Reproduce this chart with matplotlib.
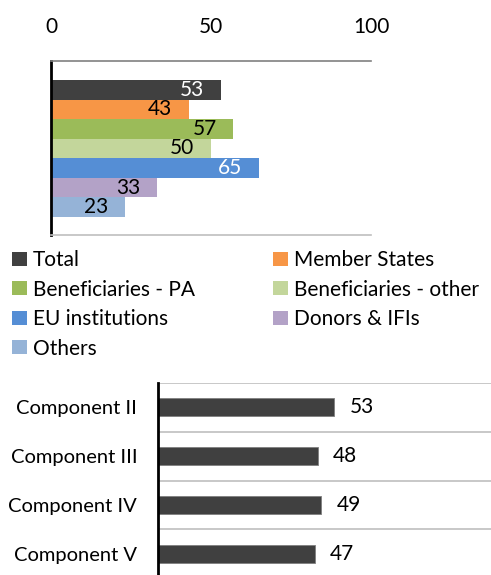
import matplotlib
matplotlib.use("Agg")
import matplotlib.pyplot as plt
from matplotlib.patches import Patch

plt.rcParams['font.family'] = ['Lato', 'DejaVu Sans']

# top chart: scores by stakeholder group
groups = ['Total', 'Member States', 'Beneficiaries - PA', 'Beneficiaries - other',
          'EU institutions', 'Donors & IFIs', 'Others']
group_vals = [53, 43, 57, 50, 65, 33, 23]
group_colors = ['#404040', '#F79646', '#9BBB59', '#C3D69B', '#558ED5', '#B3A2C7', '#95B3D7']
label_colors = ['white', 'black', 'black', 'black', 'white', 'black', 'black']
x_ticks = [0, 50, 100]

# bottom chart: scores by component
components = ['Component II', 'Component III', 'Component IV', 'Component V']
comp_vals = [53, 48, 49, 47]

W, H = 491, 575
fig = plt.figure(figsize=(W / 100, H / 100), dpi=100)

# ---- top chart
ax = fig.add_axes([51 / W, (H - 235) / H, 320 / W, 174 / H])
ys = list(range(len(groups)))
ax.barh(ys, group_vals, height=1.0, color=group_colors)
for y, v, c in zip(ys, group_vals, label_colors):
    ax.annotate(str(v), (v, y), xytext=(-12, 0), textcoords='offset points',
                ha='right', va='center', fontsize=15, color=c)
ax.set_xlim(0, 100)
ax.set_ylim(7.42, -1.47)
ax.xaxis.tick_top()
ax.set_xticks(x_ticks)
ax.tick_params(axis='x', length=0, pad=17, labelsize=15)
ax.set_yticks([])
ax.spines['right'].set_visible(False)
ax.spines['top'].set_color('#808080')
ax.spines['top'].set_linewidth(1.2)
ax.spines['bottom'].set_color('#BFBFBF')
ax.spines['bottom'].set_linewidth(1.2)
ax.spines['left'].set_color('black')
ax.spines['left'].set_linewidth(2)

# legend, filled column-wise -> reorder so it reads row-wise
order = [0, 2, 4, 6, 1, 3, 5]
handles = [Patch(facecolor=group_colors[i], edgecolor='none') for i in order]
labels = [groups[i] for i in order]
fig.legend(handles, labels, ncol=2, loc='upper left', bbox_to_anchor=(12 / W, 1 - 250 / H),
           frameon=False, fontsize=15, handlelength=0.7, handleheight=0.65,
           handletextpad=0.3, labelspacing=0.46, columnspacing=3.75, borderaxespad=0,
           borderpad=0)

# ---- bottom chart
ax2 = fig.add_axes([158 / W, (H - 578) / H, (W - 158) / W, 195 / H])
ys2 = list(range(len(components)))
ax2.barh(ys2, comp_vals, height=0.37, color='#404040', edgecolor='#7F7F7F', linewidth=0.6)
for y, v in zip(ys2, comp_vals):
    ax2.annotate(str(v), (v, y), xytext=(11, 0), textcoords='offset points',
                 ha='left', va='center', fontsize=15)
ax2.set_xlim(0, 100)
ax2.set_ylim(3.5, -0.5)
for b in [-0.5, 0.5, 1.5, 2.5, 3.5]:
    ax2.axhline(b, color='#BFBFBF', linewidth=1.2, zorder=0)
ax2.set_yticks(ys2)
ax2.set_yticklabels(components)
ax2.tick_params(axis='y', length=0, pad=15, labelsize=14.5)
ax2.set_xticks([])
for s in ['top', 'right', 'bottom']:
    ax2.spines[s].set_visible(False)
ax2.spines['left'].set_color('black')
ax2.spines['left'].set_linewidth(2)

fig.savefig('out.png', dpi=100)
